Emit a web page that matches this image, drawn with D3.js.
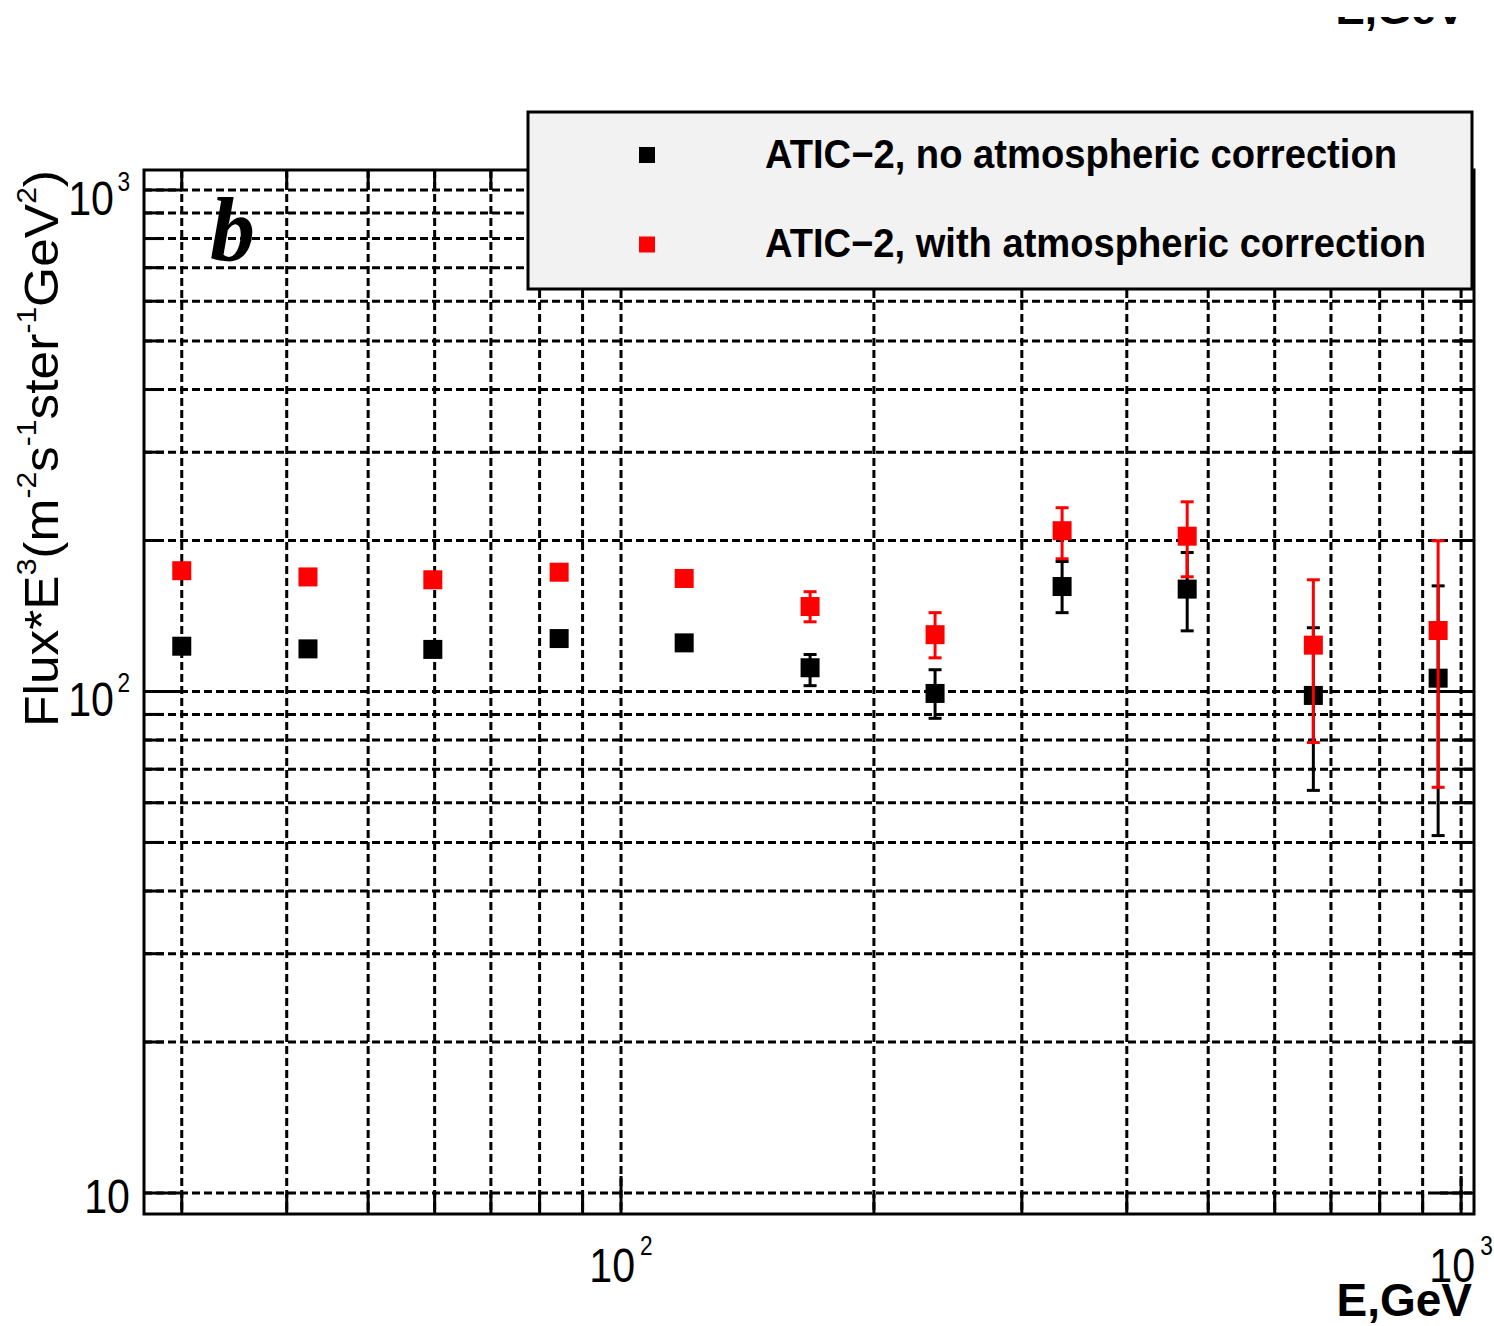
<!DOCTYPE html>
<html>
<head>
<meta charset="utf-8">
<script src="https://cdn.jsdelivr.net/npm/d3@7"></script>
<style>
  body { margin: 0; background: #fff; }
  svg { display: block; }
  text { font-family: "Liberation Sans", Arial, Helvetica, sans-serif; fill: #000; }
</style>
</head>
<body>
<svg id="chart" width="1494" height="1326"></svg>
<script>
// Energy bins (GeV)
const energies = [30, 42.4, 59.7, 84.4, 118.9, 167.9, 236.5, 335, 472, 667, 939];

// ATIC-2, no atmospheric correction: Flux*E^3 and error-bar bounds
const fluxNoCorr = [123.1, 121.6, 121.3, 127.5, 125.0, 111.5, 99.1, 161.9, 160.0, 98.2, 106.3];
const noCorrLow  = [null, null, null, null, null, 102.7, 88.4, 143.6, 132.1, 63.5, 51.6];
const noCorrHigh = [null, null, null, null, null, 118.5, 110.5, 181.6, 189.3, 134.0, 162.4];

// ATIC-2, with atmospheric correction
const fluxCorr  = [174.1, 169.2, 167.0, 172.9, 168.0, 147.7, 129.8, 209.2, 204.0, 123.7, 132.3];
const corrLow   = [null, null, null, null, null, 137.7, 116.7, 183.9, 169.3, 79.1, 64.4];
const corrHigh  = [null, null, null, null, null, 158.1, 143.6, 232.5, 238.9, 167.0, 199.8];

const seriesNames  = ["ATIC\u22122, no atmospheric correction", "ATIC\u22122, with atmospheric correction"];
const seriesColors = ["#000000", "#ff0000"];

// Axis ranges and decade labels
const xDomain = [27.05, 1036];
const yDomain = [9.08, 1096];
const xDecadeLabels = [{ v: 100, exp: "2" }, { v: 1000, exp: "3" }];
const yDecadeLabels = [{ v: 10, exp: "" }, { v: 100, exp: "2" }, { v: 1000, exp: "3" }];

const frame = { left: 144, right: 1474, top: 170, bottom: 1214 };

const svg = d3.select("#chart");
const x = d3.scaleLog().domain(xDomain).range([frame.left, frame.right]);
const y = d3.scaleLog().domain(yDomain).range([frame.bottom, frame.top]);

const isMajor = d => Math.abs(Math.log10(d) - Math.round(Math.log10(d))) < 1e-9;

// Dashed grid at every tick
const grid = svg.append("g")
  .attr("stroke", "#000").attr("stroke-width", 3).attr("stroke-dasharray", "8,4");
grid.selectAll("line.gx").data(x.ticks()).join("line").attr("class", "gx")
  .attr("x1", d => x(d)).attr("x2", d => x(d))
  .attr("y1", frame.top).attr("y2", frame.bottom);
grid.selectAll("line.gy").data(y.ticks()).join("line").attr("class", "gy")
  .attr("y1", d => y(d)).attr("y2", d => y(d))
  .attr("x1", frame.left).attr("x2", frame.right);

// Ticks on all four sides
const ticks = svg.append("g").attr("stroke", "#000").attr("stroke-width", 3);
const tl = d => isMajor(d) ? 38 : 20;
ticks.selectAll("line.tb").data(x.ticks()).join("line").attr("class", "tb")
  .attr("x1", d => x(d)).attr("x2", d => x(d))
  .attr("y1", frame.bottom).attr("y2", d => frame.bottom - tl(d));
ticks.selectAll("line.tt").data(x.ticks()).join("line").attr("class", "tt")
  .attr("x1", d => x(d)).attr("x2", d => x(d))
  .attr("y1", frame.top).attr("y2", d => frame.top + tl(d));
ticks.selectAll("line.tlft").data(y.ticks()).join("line").attr("class", "tlft")
  .attr("y1", d => y(d)).attr("y2", d => y(d))
  .attr("x1", frame.left).attr("x2", d => frame.left + tl(d));
ticks.selectAll("line.trgt").data(y.ticks()).join("line").attr("class", "trgt")
  .attr("y1", d => y(d)).attr("y2", d => y(d))
  .attr("x1", frame.right).attr("x2", d => frame.right - tl(d));

// Frame
svg.append("rect")
  .attr("x", frame.left).attr("y", frame.top)
  .attr("width", frame.right - frame.left).attr("height", frame.bottom - frame.top)
  .attr("fill", "none").attr("stroke", "#000").attr("stroke-width", 3);

// Data series
const series = [
  { val: fluxNoCorr, lo: noCorrLow, hi: noCorrHigh, color: seriesColors[0] },
  { val: fluxCorr,   lo: corrLow,   hi: corrHigh,   color: seriesColors[1] }
];
series.forEach(s => {
  const pts = energies.map((e, i) => ({ e, v: s.val[i], lo: s.lo[i], hi: s.hi[i] }));
  const g = svg.append("g");
  const withErr = pts.filter(p => p.lo != null);
  g.selectAll("line.bar").data(withErr).join("line").attr("class", "bar")
    .attr("x1", p => x(p.e)).attr("x2", p => x(p.e))
    .attr("y1", p => y(p.lo)).attr("y2", p => y(p.hi))
    .attr("stroke", s.color).attr("stroke-width", 3);
  ["lo", "hi"].forEach(k => {
    g.selectAll("line.cap" + k).data(withErr).join("line").attr("class", "cap" + k)
      .attr("x1", p => x(p.e) - 6.5).attr("x2", p => x(p.e) + 6.5)
      .attr("y1", p => y(p[k])).attr("y2", p => y(p[k]))
      .attr("stroke", s.color).attr("stroke-width", 3);
  });
  g.selectAll("rect").data(pts).join("rect")
    .attr("x", p => x(p.e) - 9.5).attr("y", p => y(p.v) - 9.5)
    .attr("width", 19).attr("height", 19).attr("fill", s.color);
});

// Panel letter
svg.append("text").attr("x", 210).attr("y", 260)
  .style("font-family", "'Liberation Serif', 'Times New Roman', serif")
  .style("font-weight", "bold").style("font-style", "italic")
  .style("font-size", "90px").text("b");

// Y decade labels
yDecadeLabels.forEach(l => {
  const g = svg.append("g")
    .attr("transform", `translate(130,${y(l.v) + (l.exp ? 25 : 20)}) scale(0.84,1)`);
  const t = g.append("text").attr("text-anchor", "end").style("font-size", "49px");
  t.append("tspan").text("10");
  if (l.exp) t.append("tspan").attr("dx", 4).attr("dy", -24).style("font-size", "27px").text(l.exp);
});

// X decade labels
xDecadeLabels.forEach(l => {
  const g = svg.append("g")
    .attr("transform", `translate(${x(l.v)},1282) scale(0.84,1)`);
  const t = g.append("text").attr("text-anchor", "middle").style("font-size", "49px");
  t.append("tspan").text("10");
  t.append("tspan").attr("dx", 6).attr("dy", -27).style("font-size", "27px").text(l.exp);
});

// Axis titles
svg.append("text").attr("x", 1472).attr("y", 1316).attr("text-anchor", "end")
  .style("font-size", "46px").style("font-weight", "bold").text("E,GeV");

// Lower edge of the axis title of the panel above, trimmed to a thin strip
svg.append("clipPath").attr("id", "topStrip")
  .append("rect").attr("x", 1300).attr("y", 17).attr("width", 194).attr("height", 20);
svg.append("text").attr("x", 1465).attr("y", 24).attr("text-anchor", "end")
  .attr("clip-path", "url(#topStrip)")
  .style("font-size", "44px").style("font-weight", "bold").text("E,GeV");

const yTitle = svg.append("text")
  .attr("transform", "translate(58,727) rotate(-90)")
  .attr("textLength", 557).attr("lengthAdjust", "spacingAndGlyphs")
  .style("font-size", "48px");
const titleParts = [
  ["Flux*E", false], ["3", true], ["(m", false], ["-2", true], ["s", false], ["-1", true],
  ["ster", false], ["-1", true], ["GeV", false], ["2", true], [")", false]
];
let raised = false;
titleParts.forEach(([txt, sup]) => {
  const ts = yTitle.append("tspan").text(txt);
  if (sup && !raised) { ts.attr("dy", -22).style("font-size", "28px"); raised = true; }
  else if (sup) { ts.style("font-size", "28px"); }
  else if (raised) { ts.attr("dy", 22); raised = false; }
});

// Legend
const leg = svg.append("g");
leg.append("rect").attr("x", 528).attr("y", 112).attr("width", 944).attr("height", 177)
  .attr("fill", "#f2f2f2").attr("stroke", "#000").attr("stroke-width", 3);
const legRows = [155, 244.5];
seriesNames.forEach((name, i) => {
  leg.append("rect").attr("x", 639).attr("y", legRows[i] - 8).attr("width", 16).attr("height", 16)
    .attr("fill", seriesColors[i]);
  leg.append("text").attr("x", 765).attr("y", legRows[i] + 12.5)
    .attr("textLength", i === 0 ? 632 : 661).attr("lengthAdjust", "spacingAndGlyphs")
    .style("font-size", "40px").style("font-weight", "bold").text(name);
});
</script>
</body>
</html>
